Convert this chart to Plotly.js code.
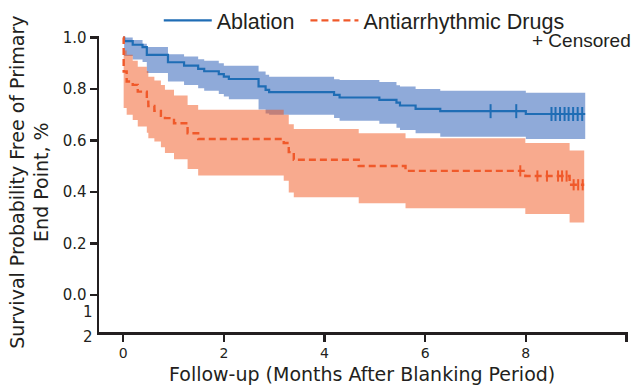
<!DOCTYPE html>
<html>
<head>
<meta charset="utf-8">
<script src="https://cdn.plot.ly/plotly-3.0.1.min.js"></script>
<style>html,body{margin:0;padding:0;background:#fff;}#chart{width:635px;height:385px;}</style>
</head>
<body>
<div id="chart"></div>
<script>
// ---- Data ----
const ablationTimes = [0, 0.02, 0.19, 0.385, 0.47, 0.89, 1.21, 1.49, 1.61, 1.90, 2.00, 2.10, 2.69, 2.83, 2.90, 4.19, 4.30, 5.09, 5.43, 5.50, 5.81, 6.30, 8.00];
const ablationSurv  = [1.0, 0.986, 0.972, 0.963, 0.933, 0.904, 0.891, 0.878, 0.869, 0.858, 0.848, 0.839, 0.810, 0.797, 0.788, 0.777, 0.767, 0.758, 0.747, 0.736, 0.723, 0.714, 0.703];
const ablationUpper = [1.0, 1.0, 0.99, 0.976, 0.963, 0.935, 0.926, 0.916, 0.91, 0.90, 0.89, 0.89, 0.868, 0.855, 0.848, 0.838, 0.835, 0.827, 0.815, 0.81, 0.80, 0.793, 0.786];
const ablationLower = [1.0, 0.928, 0.915, 0.905, 0.862, 0.829, 0.816, 0.803, 0.793, 0.781, 0.771, 0.76, 0.72, 0.705, 0.70, 0.687, 0.677, 0.665, 0.650, 0.641, 0.628, 0.615, 0.606];
const ablationEnd = 9.18;
const ablationCensored = [7.30, 7.81, 8.51, 8.59, 8.68, 8.77, 8.85, 8.94, 9.03, 9.12];

const drugTimes = [0, 0.01, 0.07, 0.19, 0.29, 0.47, 0.50, 0.62, 0.75, 0.83, 1.01, 1.28, 1.49, 3.19, 3.29, 3.39, 4.68, 5.61, 7.99, 8.87];
const drugSurv  = [1.0, 0.868, 0.829, 0.816, 0.790, 0.751, 0.734, 0.715, 0.696, 0.687, 0.667, 0.628, 0.606, 0.590, 0.555, 0.525, 0.501, 0.482, 0.462, 0.428];
const drugUpper = [1.0, 0.95, 0.933, 0.91, 0.887, 0.87, 0.848, 0.833, 0.816, 0.797, 0.775, 0.738, 0.719, 0.70, 0.663, 0.645, 0.628, 0.609, 0.59, 0.561];
const drugLower = [1.0, 0.726, 0.70, 0.68, 0.654, 0.63, 0.609, 0.596, 0.574, 0.551, 0.527, 0.489, 0.464, 0.444, 0.398, 0.38, 0.356, 0.337, 0.314, 0.281];
const drugEnd = 9.16;
const drugCensored = [7.89, 8.23, 8.42, 8.64, 8.72, 8.81, 8.95, 9.04, 9.13];

const seriesNames = ['Ablation', 'Antiarrhythmic Drugs'];
const xTicks = [0, 2, 4, 6, 8, 10];
const yTicks = [0, 0.2, 0.4, 0.6, 0.8, 1.0];
const yTickText = ['0.0', '0.2', '0.4', '0.6', '0.8', '1.0'];
const strayLabels = ['1', '2'];
const xTitle = 'Follow-up (Months After Blanking Period)';
const yTitle = 'Survival Probability Free of Primary<br>End Point, %';

// ---- helpers ----
function withEnd(times, vals, end) {
  return { x: times.concat([end]), y: vals.concat([vals[vals.length - 1]]) };
}
function stepAt(times, vals, t) {
  let v = vals[0];
  for (let i = 0; i < times.length; i++) { if (times[i] <= t) v = vals[i]; }
  return v;
}

const BLUE = '#1f6db5';
const ORANGE = '#f0592a';
const BLUE_FILL = 'rgba(31,85,180,0.5)';
const ORANGE_FILL = 'rgba(242,85,30,0.5)';
const INK = '#231f20';

function band(times, lower, upper, end, fill) {
  const lo = withEnd(times, lower, end), up = withEnd(times, upper, end);
  return [
    { x: lo.x, y: lo.y, type: 'scatter', mode: 'lines', line: { shape: 'hv', width: 0, color: fill }, showlegend: false, hoverinfo: 'skip' },
    { x: up.x, y: up.y, type: 'scatter', mode: 'lines', line: { shape: 'hv', width: 0, color: fill }, fill: 'tonexty', fillcolor: fill, showlegend: false, hoverinfo: 'skip' }
  ];
}

const aLine = withEnd(ablationTimes, ablationSurv, ablationEnd);
const dLine = withEnd(drugTimes, drugSurv, drugEnd);

const traces = [].concat(
  band(ablationTimes, ablationLower, ablationUpper, ablationEnd, BLUE_FILL),
  band(drugTimes, drugLower, drugUpper, drugEnd, ORANGE_FILL),
  [
    { x: aLine.x, y: aLine.y, type: 'scatter', mode: 'lines', name: seriesNames[0] + '\u00a0', line: { shape: 'hv', color: BLUE, width: 2.2 } },
    { x: dLine.x, y: dLine.y, type: 'scatter', mode: 'lines', name: seriesNames[1], line: { shape: 'hv', color: ORANGE, width: 2.4, dash: '7px,4px' } },
    { x: ablationCensored, y: ablationCensored.map(t => stepAt(ablationTimes, ablationSurv, t)), type: 'scatter', mode: 'markers', showlegend: false,
      marker: { symbol: 'line-ns-open', size: 10, color: BLUE, line: { color: BLUE, width: 2 } } },
    { x: drugCensored, y: drugCensored.map(t => stepAt(drugTimes, drugSurv, t)), type: 'scatter', mode: 'markers', showlegend: false,
      marker: { symbol: 'line-ns-open', size: 8, color: ORANGE, line: { color: ORANGE, width: 2 } } }
  ]
);

const annotations = [
  { text: strayLabels[0], xref: 'paper', yref: 'paper', x: -0.008, y: 0.069, xanchor: 'right', yanchor: 'middle',
    showarrow: false, font: { family: 'DejaVu Sans', size: 15, color: INK } },
  { text: strayLabels[1], xref: 'paper', yref: 'paper', x: -0.008, y: -0.016, xanchor: 'right', yanchor: 'middle',
    showarrow: false, font: { family: 'DejaVu Sans', size: 15, color: INK } },
  { text: '+ Censored', xref: 'paper', yref: 'paper', x: 1.01, y: 0.986, xanchor: 'right', yanchor: 'middle',
    showarrow: false, font: { family: 'Liberation Sans, Arial', size: 19, color: INK } },
  { text: xTitle, xref: 'paper', yref: 'paper', x: 0.497, y: -0.142, xanchor: 'center', yanchor: 'middle',
    showarrow: false, font: { family: 'DejaVu Sans', size: 19, color: INK } },
  { text: yTitle, xref: 'paper', yref: 'paper', x: -0.18, y: 0.505, xanchor: 'left', yanchor: 'middle', textangle: -90,
    showarrow: false, font: { family: 'DejaVu Sans', size: 19, color: INK } }
];

const layout = {
  width: 635, height: 385,
  margin: { l: 99, r: 7, t: 36, b: 53, autoexpand: false },
  paper_bgcolor: '#fff', plot_bgcolor: '#fff',
  showlegend: true,
  legend: { orientation: 'h', traceorder: 'normal', x: 0.113, y: 1.122, xanchor: 'left', yanchor: 'top',
    font: { family: 'Liberation Sans, Arial', size: 21.5, color: INK }, itemwidth: 48,
    bgcolor: 'rgba(0,0,0,0)' },
  xaxis: {
    range: [-0.48, 10.03], tickvals: xTicks, showgrid: false, zeroline: false,
    showline: true, linecolor: INK, linewidth: 2.5, ticks: 'outside', ticklen: 7, tickwidth: 2.5, tickcolor: INK,
    tickfont: { family: 'DejaVu Sans', size: 14, color: INK }
  },
  yaxis: {
    range: [-0.144, 1.006], tickvals: yTicks, ticktext: yTickText, showgrid: false, zeroline: false,
    showline: true, linecolor: INK, linewidth: 2.5, ticks: 'outside', ticklen: 7, tickwidth: 2.5, tickcolor: INK,
    tickfont: { family: 'DejaVu Sans', size: 15, color: INK }
  },
  annotations: annotations
};

Plotly.newPlot('chart', traces, layout, { displayModeBar: false, staticPlot: true });
</script>
</body>
</html>
